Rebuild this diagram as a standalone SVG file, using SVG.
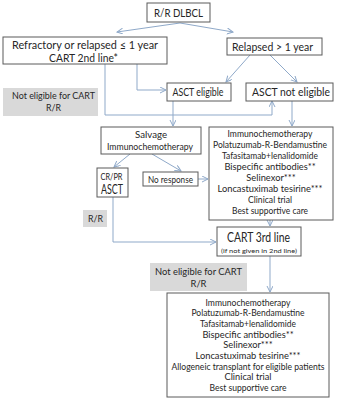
<svg xmlns="http://www.w3.org/2000/svg" width="338" height="400" viewBox="0 0 338 400">
<defs>
<style>
.box{fill:#ffffff;stroke:#5a5a5a;stroke-width:1}
.gray{fill:#d9d9d9;stroke:none}
.t{font-family:Lato,"Liberation Sans",sans-serif;fill:#262626;text-anchor:middle}
.m{font-size:11.5px}
.g{font-size:10px}
.s{font-size:9.3px}
.c{fill:none;stroke:#8fa9c9;stroke-width:1}
</style>
<marker id="ah" markerWidth="8" markerHeight="8" refX="6" refY="3" orient="auto" markerUnits="userSpaceOnUse">
<path d="M0,0 L6,3 L0,6" fill="none" stroke="#8fa9c9" stroke-width="1"/>
</marker>
</defs>
<rect width="338" height="400" fill="#ffffff"/>

<g id="connectors">
<path class="c" d="M180,23 L117,32" marker-end="url(#ah)"/>
<path class="c" d="M180,23 L233,32" marker-end="url(#ah)"/>
<path class="c" d="M250,55 L226,82" marker-end="url(#ah)"/>
<path class="c" d="M270,55 L297,82" marker-end="url(#ah)"/>
<path class="c" d="M137,64 V90 H166" marker-end="url(#ah)"/>
<path class="c" d="M105,64 V115 H272 V101" marker-end="url(#ah)"/>
<path class="c" d="M173,101 V126" marker-end="url(#ah)"/>
<path class="c" d="M292,101 V126" marker-end="url(#ah)"/>
<path class="c" d="M130,154 L114,167" marker-end="url(#ah)"/>
<path class="c" d="M152,154 L181,171" marker-end="url(#ah)"/>
<path class="c" d="M198,179 H208" marker-end="url(#ah)"/>
<path class="c" d="M113,197 V242 H216" marker-end="url(#ah)"/>
<path class="c" d="M270,220 V226" marker-end="url(#ah)"/>
<path class="c" d="M270,256 V292" marker-end="url(#ah)"/>
</g>

<g id="rr-dlbcl">
<rect class="box" x="147" y="3" width="63" height="19"/>
<text class="t m" x="178.5" y="16.5" textLength="49" lengthAdjust="spacingAndGlyphs">R/R DLBCL</text>
</g>

<g id="refractory">
<rect class="box" x="3" y="37" width="164" height="27"/>
<text class="t m" x="85" y="49" textLength="146" lengthAdjust="spacingAndGlyphs">Refractory or relapsed ≤ 1 year</text>
<text class="t m" x="83.5" y="61.5" textLength="69" lengthAdjust="spacingAndGlyphs">CART 2nd line*</text>
</g>

<g id="relapsed">
<rect class="box" x="227" y="38" width="95" height="17"/>
<text class="t m" x="272.5" y="50.5" textLength="81" lengthAdjust="spacingAndGlyphs">Relapsed &gt; 1 year</text>
</g>

<g id="asct-eligible">
<rect class="box" x="167" y="83" width="64" height="18"/>
<text class="t m" x="198" y="96" textLength="51" lengthAdjust="spacingAndGlyphs">ASCT eligible</text>
</g>

<g id="asct-not-eligible">
<rect class="box" x="246" y="83" width="87" height="18"/>
<text class="t m" x="291" y="96" textLength="78" lengthAdjust="spacingAndGlyphs">ASCT not eligible</text>
</g>

<g id="not-eligible-cart-1">
<rect class="gray" x="3" y="88" width="95" height="28"/>
<text class="t g" x="53.5" y="98.5" textLength="83" lengthAdjust="spacingAndGlyphs">Not eligible for CART</text>
<text class="t g" x="53.5" y="111" textLength="15" lengthAdjust="spacingAndGlyphs">R/R</text>
</g>

<g id="salvage">
<rect class="box" x="101" y="127" width="100" height="27"/>
<text class="t g" x="151" y="138" textLength="32" lengthAdjust="spacingAndGlyphs">Salvage</text>
<text class="t g" x="150" y="150" textLength="86" lengthAdjust="spacingAndGlyphs">Immunochemotherapy</text>
</g>

<g id="options-2nd">
<rect class="box" x="209" y="127" width="124" height="93"/>
<text class="t s" x="270" y="136.5" textLength="85" lengthAdjust="spacingAndGlyphs">Immunochemotherapy</text>
<text class="t s" x="270" y="147.5" textLength="114" lengthAdjust="spacingAndGlyphs">Polatuzumab-R-Bendamustine</text>
<text class="t s" x="270" y="158.5" textLength="96" lengthAdjust="spacingAndGlyphs">Tafasitamab+lenalidomide</text>
<text class="t s" x="270" y="169.5">Bispecific antibodies**</text>
<text class="t s" x="271" y="180.5">Selinexor***</text>
<text class="t s" x="270" y="191.5">Loncastuximab tesirine***</text>
<text class="t s" x="270" y="202.5" textLength="44" lengthAdjust="spacingAndGlyphs">Clinical trial</text>
<text class="t s" x="270" y="213.5" textLength="76" lengthAdjust="spacingAndGlyphs">Best supportive care</text>
</g>

<g id="crpr-asct">
<rect class="box" x="97" y="168" width="31" height="29"/>
<text class="t s" x="111.5" y="180" textLength="22" lengthAdjust="spacingAndGlyphs">CR/PR</text>
<text class="t" x="112" y="194" style="font-size:12.5px" textLength="22" lengthAdjust="spacingAndGlyphs">ASCT</text>
</g>

<g id="no-response">
<rect class="box" x="143" y="172" width="55" height="14"/>
<text class="t g" x="170.5" y="182.5" textLength="45" lengthAdjust="spacingAndGlyphs">No response</text>
</g>

<g id="rr-gray">
<rect class="gray" x="83" y="210" width="24" height="17"/>
<text class="t g" x="95.5" y="222" textLength="15" lengthAdjust="spacingAndGlyphs">R/R</text>
</g>

<g id="cart-3rd">
<rect class="box" x="217" y="227" width="84" height="29"/>
<text class="t" x="258.5" y="242" style="font-size:12.5px" textLength="63" lengthAdjust="spacingAndGlyphs">CART 3rd line</text>
<text class="t" x="259" y="252.5" style="font-size:6.5px" textLength="76" lengthAdjust="spacingAndGlyphs">(if not given in 2nd line)</text>
</g>

<g id="not-eligible-cart-2">
<rect class="gray" x="150" y="263" width="97" height="28"/>
<text class="t g" x="198.5" y="274.5" textLength="87" lengthAdjust="spacingAndGlyphs">Not eligible for CART</text>
<text class="t g" x="198.5" y="287" textLength="16" lengthAdjust="spacingAndGlyphs">R/R</text>
</g>

<g id="options-3rd">
<rect class="box" x="167" y="293" width="162" height="104"/>
<text class="t s" x="248" y="305.5" textLength="85" lengthAdjust="spacingAndGlyphs">Immunochemotherapy</text>
<text class="t s" x="248" y="316.2" textLength="113" lengthAdjust="spacingAndGlyphs">Polatuzumab-R-Bendamustine</text>
<text class="t s" x="248" y="326.9" textLength="96" lengthAdjust="spacingAndGlyphs">Tafasitamab+lenalidomide</text>
<text class="t s" x="248" y="337.6">Bispecific antibodies**</text>
<text class="t s" x="248" y="348.3">Selinexor***</text>
<text class="t s" x="248" y="359">Loncastuximab tesirine***</text>
<text class="t s" x="248" y="369.7" textLength="153" lengthAdjust="spacingAndGlyphs">Allogeneic transplant for eligible patients</text>
<text class="t s" x="248" y="380.4" textLength="47" lengthAdjust="spacingAndGlyphs">Clinical trial</text>
<text class="t s" x="248" y="391.1" textLength="77" lengthAdjust="spacingAndGlyphs">Best supportive care</text>
</g>
</svg>
